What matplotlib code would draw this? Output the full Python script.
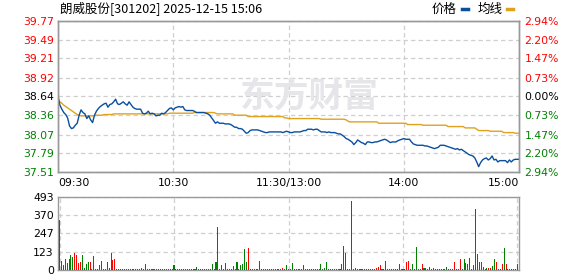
"""Intraday minute chart: price / average line with per-minute volume bars."""

import matplotlib
matplotlib.use("Agg")
import matplotlib.pyplot as plt
import numpy as np

TITLE = "朗威股份[301202] 2025-12-15 15:06"
PRE_CLOSE = 38.64

time_ticks = [0, 60, 120, 180, 240]
time_labels = ["09:30", "10:30", "11:30/13:00", "14:00", "15:00"]

price_ticks = [37.51, 37.79, 38.07, 38.36, 38.64, 38.92, 39.21, 39.49, 39.77]
pct_labels = ["2.94%", "2.20%", "1.47%", "0.73%", "0.00%",
              "0.73%", "1.47%", "2.20%", "2.94%"]
vol_ticks = [0, 123, 247, 370, 493]

# one value per minute, 09:30 .. 15:00 (241 points)
price = [
    38.65, 38.51, 38.45, 38.40, 38.37, 38.32, 38.20, 38.16, 38.17, 38.21,
    38.24, 38.36, 38.44, 38.40, 38.38, 38.31, 38.35, 38.29, 38.25, 38.36,
    38.42, 38.46, 38.49, 38.51, 38.53, 38.54, 38.48, 38.52, 38.53, 38.56,
    38.60, 38.53, 38.52, 38.54, 38.56, 38.53, 38.51, 38.56, 38.52, 38.48,
    38.46, 38.45, 38.45, 38.45, 38.39, 38.38, 38.39, 38.42, 38.38, 38.39,
    38.38, 38.35, 38.36, 38.36, 38.39, 38.38, 38.40, 38.43, 38.46, 38.47,
    38.44, 38.47, 38.48, 38.49, 38.48, 38.49, 38.44, 38.43, 38.43, 38.43,
    38.43, 38.42, 38.40, 38.40, 38.40, 38.40, 38.40, 38.39, 38.38, 38.36,
    38.32, 38.28, 38.24, 38.26, 38.24, 38.24, 38.24, 38.23, 38.23, 38.23,
    38.22, 38.20, 38.18, 38.18, 38.16, 38.16, 38.15, 38.12, 38.09, 38.10,
    38.13, 38.14, 38.14, 38.14, 38.14, 38.13, 38.12, 38.11, 38.10, 38.10,
    38.11, 38.11, 38.11, 38.11, 38.11, 38.11, 38.11, 38.10, 38.11, 38.12,
    38.11, 38.10, 38.10, 38.11, 38.11, 38.11, 38.11, 38.12, 38.13, 38.13,
    38.15, 38.15, 38.15, 38.14, 38.15, 38.15, 38.13, 38.11, 38.11, 38.11,
    38.10, 38.11, 38.10, 38.10, 38.10, 38.09, 38.08, 38.08, 38.06, 38.04,
    38.01, 38.00, 37.98, 37.96, 37.92, 37.95, 37.99, 37.97, 37.95, 37.94,
    37.92, 37.96, 37.96, 37.95, 37.95, 37.96, 37.96, 37.97, 37.98, 37.99,
    38.00, 37.99, 37.97, 37.95, 37.96, 37.96, 37.96, 37.98, 37.99, 38.00,
    38.01, 38.00, 38.00, 38.00, 37.96, 37.93, 37.92, 37.91, 37.91, 37.91,
    37.91, 37.90, 37.90, 37.89, 37.88, 37.87, 37.86, 37.87, 37.88, 37.91,
    37.91, 37.91, 37.90, 37.89, 37.88, 37.87, 37.86, 37.85, 37.86, 37.84,
    37.85, 37.83, 37.81, 37.79, 37.77, 37.76, 37.75, 37.72, 37.66, 37.59,
    37.65, 37.69, 37.71, 37.72, 37.69, 37.71, 37.75, 37.69, 37.70, 37.66,
    37.68, 37.68, 37.68, 37.68, 37.65, 37.69, 37.66, 37.69, 37.70, 37.70,
    37.70,
]

avg_price = [
    38.59, 38.56, 38.54, 38.51, 38.49, 38.47, 38.45, 38.43, 38.41, 38.39,
    38.37, 38.36, 38.35, 38.35, 38.35, 38.35, 38.35, 38.35, 38.35, 38.35,
    38.36, 38.36, 38.36, 38.36, 38.37, 38.37, 38.37, 38.37, 38.37, 38.38,
    38.38, 38.38, 38.38, 38.38, 38.38, 38.38, 38.38, 38.38, 38.38, 38.38,
    38.38, 38.38, 38.38, 38.38, 38.38, 38.38, 38.38, 38.38, 38.38, 38.38,
    38.38, 38.38, 38.38, 38.38, 38.38, 38.38, 38.38, 38.38, 38.39, 38.39,
    38.39, 38.39, 38.39, 38.39, 38.39, 38.39, 38.39, 38.39, 38.39, 38.39,
    38.39, 38.40, 38.40, 38.40, 38.40, 38.40, 38.40, 38.40, 38.40, 38.40,
    38.40, 38.40, 38.39, 38.38, 38.38, 38.38, 38.38, 38.38, 38.38, 38.38,
    38.38, 38.38, 38.36, 38.36, 38.36, 38.36, 38.36, 38.36, 38.36, 38.34,
    38.34, 38.34, 38.34, 38.34, 38.34, 38.34, 38.34, 38.34, 38.34, 38.34,
    38.34, 38.34, 38.34, 38.34, 38.34, 38.34, 38.34, 38.34, 38.32, 38.32,
    38.31, 38.31, 38.31, 38.31, 38.31, 38.31, 38.31, 38.31, 38.31, 38.31,
    38.31, 38.31, 38.31, 38.31, 38.31, 38.31, 38.31, 38.30, 38.30, 38.30,
    38.30, 38.30, 38.30, 38.30, 38.30, 38.30, 38.30, 38.30, 38.30, 38.30,
    38.29, 38.27, 38.26, 38.26, 38.26, 38.26, 38.26, 38.26, 38.26, 38.26,
    38.26, 38.26, 38.26, 38.26, 38.26, 38.26, 38.26, 38.24, 38.24, 38.24,
    38.24, 38.24, 38.24, 38.24, 38.24, 38.24, 38.24, 38.24, 38.24, 38.24,
    38.24, 38.24, 38.22, 38.22, 38.22, 38.22, 38.22, 38.22, 38.22, 38.22,
    38.21, 38.21, 38.21, 38.21, 38.21, 38.21, 38.21, 38.21, 38.21, 38.21,
    38.21, 38.21, 38.21, 38.19, 38.19, 38.19, 38.19, 38.19, 38.19, 38.19,
    38.19, 38.19, 38.17, 38.17, 38.17, 38.17, 38.17, 38.17, 38.15, 38.13,
    38.13, 38.13, 38.13, 38.13, 38.13, 38.12, 38.12, 38.12, 38.12, 38.12,
    38.12, 38.12, 38.10, 38.10, 38.10, 38.10, 38.10, 38.10, 38.09, 38.09,
    38.09,
]

volume = [
    337, 64, 32, 77, 46, 77, 98, 87, 112, 100,
    48, 57, 98, 16, 43, 57, 57, 9, 93, 9,
    9, 36, 64, 9, 9, 57, 16, 112, 66, 71,
    9, 6, 6, 6, 6, 6, 6, 6, 6, 6,
    9, 6, 9, 16, 9, 43, 6, 6, 6, 6,
    6, 6, 6, 6, 6, 6, 6, 6, 6, 6,
    36, 6, 6, 6, 6, 9, 6, 6, 6, 6,
    6, 9, 23, 6, 6, 6, 9, 6, 9, 6,
    43, 6, 57, 290, 6, 36, 6, 50, 6, 9,
    9, 30, 6, 57, 9, 36, 43, 139, 57, 146,
    9, 9, 9, 9, 6, 64, 9, 9, 9, 6,
    6, 9, 6, 6, 6, 6, 6, 16, 9, 36,
    9, 6, 50, 6, 6, 6, 6, 6, 36, 6,
    6, 6, 6, 6, 6, 6, 6, 43, 9, 16,
    57, 6, 6, 6, 6, 6, 6, 6, 43, 160,
    112, 9, 6, 467, 9, 16, 6, 6, 6, 6,
    6, 6, 6, 6, 6, 9, 16, 23, 36, 9,
    6, 64, 6, 6, 6, 6, 6, 6, 43, 9,
    6, 6, 57, 64, 6, 43, 6, 153, 9, 6,
    43, 16, 16, 9, 23, 9, 16, 6, 6, 6,
    6, 6, 6, 23, 9, 6, 6, 57, 9, 6,
    77, 9, 77, 50, 43, 84, 9, 36, 415, 105,
    57, 57, 23, 9, 16, 16, 16, 30, 71, 57,
    9, 9, 43, 146, 43, 9, 6, 6, 6, 6,
    43,
]

# r = minute closed up, g = minute closed down
vol_dir = (
    "rgggggggrr" "rrggggrgrr" "ggrrrrggrr" "grrrgggggg" "grgrgrrgrr"
    "rrrrrrrrrr" "grrrrgrrrr" "rggrrrgrgr" "gggrrgrrrg" "grrgrggggr"
    "rrrrgggggr" "rrrrrrrrgg" "rrgrrrrrrr" "rrrrrrrgrg" "grrrrrrrgg"
    "grrgggrrgg" "gggggrrrrg" "rgggrrrrgr" "rrrrrgrgrr" "rgrrgrgrrr"
    "rrgggggrgr" "rggggggggg" "rrrggrrggr" "rrrgrgrrrr" "r"
)

RED = "#ff0000"
GREEN = "#008000"
BLACK = "#000000"
GRID = "#cfcfcf"
FRAME = "#999999"

plt.rcParams["font.family"] = ["DejaVu Sans"]
CJK = ["Noto Sans CJK SC", "DejaVu Sans"]

W, H = 578, 276
fig = plt.figure(figsize=(W / 100, H / 100), dpi=100)
ax = fig.add_axes([58 / W, (H - 172) / H, 461 / W, 151 / H])
axv = fig.add_axes([58 / W, (H - 270) / H, 461 / W, 73 / H])

minutes = np.arange(len(price))


def style_frame(a):
    for sp in a.spines.values():
        sp.set_color(FRAME)
        sp.set_linewidth(1.0)
    a.tick_params(length=0)


def label_color(v):
    if v > PRE_CLOSE + 0.005:
        return RED
    if v < PRE_CLOSE - 0.005:
        return GREEN
    return BLACK


# price panel
ax.plot(minutes, avg_price, color="#e0a21c", lw=1.0, zorder=3)
ax.plot(minutes, price, color="#0a4f9f", lw=1.0, zorder=4)
ax.set_xlim(0, 240)
ax.set_ylim(price_ticks[0], price_ticks[-1])
ax.set_yticks(price_ticks)
ax.set_yticklabels([f"{v:.2f}" for v in price_ticks], fontsize=7.8)
for lab, v in zip(ax.get_yticklabels(), price_ticks):
    lab.set_color(label_color(v))
ax.set_xticks(time_ticks)
ax.set_xticklabels(time_labels, fontsize=7.8)
xl = ax.get_xticklabels()
xl[0].set_ha("left")
xl[-1].set_ha("right")
style_frame(ax)
ax.tick_params(axis="y", pad=3)
ax.tick_params(axis="x", pad=4)
ax.grid(True, color=GRID, lw=0.9, ls=(0, (3.5, 2.5)))
ax.set_axisbelow(True)

ax.text(0.545, 0.505, "东方财富", transform=ax.transAxes, family=CJK,
        fontsize=25, fontweight="bold", color="#e6e6ea",
        ha="center", va="center", zorder=1)

axr = ax.twinx()
axr.set_ylim(ax.get_ylim())
axr.set_yticks(price_ticks)
axr.set_yticklabels(pct_labels, fontsize=7.8)
for lab, v in zip(axr.get_yticklabels(), price_ticks):
    lab.set_color(label_color(v))
style_frame(axr)
axr.tick_params(axis="y", pad=4)

# volume panel
bar_colors = [RED if d == "r" else GREEN for d in vol_dir]
axv.bar(minutes, volume, width=0.55, color=bar_colors, lw=0,
        antialiased=False, zorder=3)
axv.set_xlim(-0.8, 240.8)
axv.set_ylim(0, vol_ticks[-1])
axv.set_yticks(vol_ticks)
axv.set_yticklabels([str(v) for v in vol_ticks], fontsize=7.8)
axv.set_xticks(time_ticks)
axv.set_xticklabels([])
style_frame(axv)
axv.tick_params(axis="y", pad=3)
axv.grid(True, color=GRID, lw=0.9, ls=(0, (3.5, 2.5)))
axv.set_axisbelow(True)

# header
fig.text(60 / W, 1 - 9 / H, TITLE, family=CJK, fontsize=9,
         ha="left", va="center")
fig.text(432 / W, 1 - 9 / H, "价格", family=CJK, fontsize=9,
         ha="left", va="center")
fig.add_artist(plt.Line2D([462 / W, 468 / W], [1 - 9 / H] * 2,
                          color="#0a4f9f", lw=2.5))
fig.text(478 / W, 1 - 9 / H, "均线", family=CJK, fontsize=9,
         ha="left", va="center")
fig.add_artist(plt.Line2D([507 / W, 513 / W], [1 - 9 / H] * 2,
                          color="#e0a21c", lw=2.5))

fig.savefig("out.png", dpi=100)
